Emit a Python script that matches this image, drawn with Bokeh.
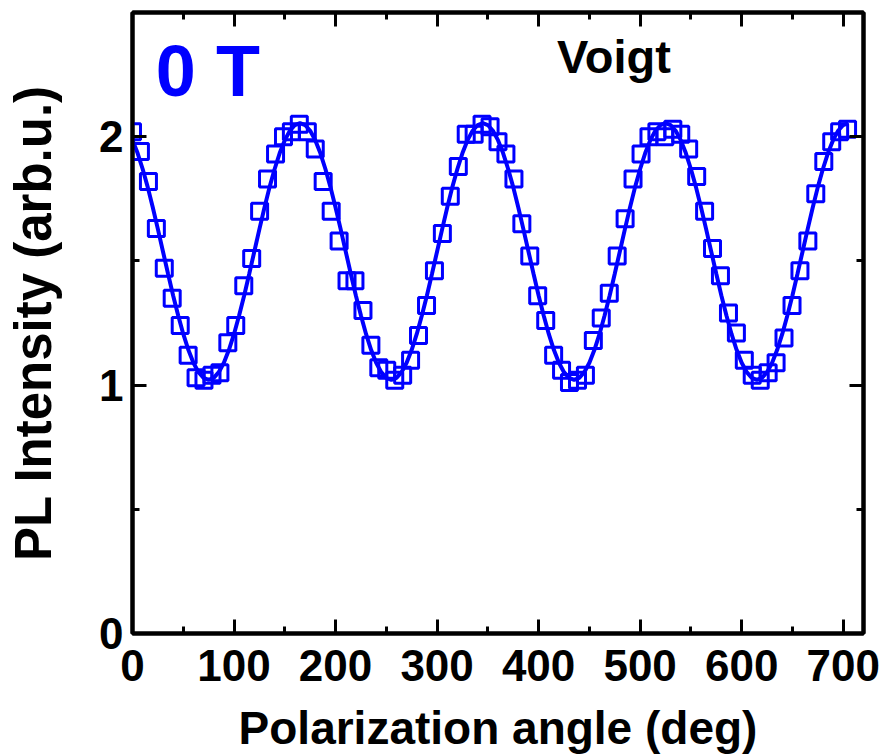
from bokeh.plotting import figure
from bokeh.models import LinearAxis, SingleIntervalTicker, Range1d, Label
from bokeh.embed import file_html
from bokeh.resources import INLINE

# ---- data ----
angle_deg = [0.0, 7.8, 15.7, 23.5, 31.3, 39.1, 47.0, 54.8, 62.6, 70.4,
             78.3, 86.1, 93.9, 101.7, 109.6, 117.4, 125.2, 133.0, 140.9, 148.7,
             156.5, 164.3, 172.2, 180.0, 187.8, 195.7, 203.5, 211.3, 219.1, 227.0,
             234.8, 242.6, 250.4, 258.3, 266.1, 273.9, 281.7, 289.6, 297.4, 305.2,
             313.0, 320.9, 328.7, 336.5, 344.3, 352.2, 360.0, 367.8, 375.7, 383.5,
             391.3, 399.1, 407.0, 414.8, 422.6, 430.4, 438.3, 446.1, 453.9, 461.7,
             469.6, 477.4, 485.2, 493.0, 500.9, 508.7, 516.5, 524.3, 532.2, 540.0,
             547.8, 555.7, 563.5, 571.3, 579.1, 587.0, 594.8, 602.6, 610.4, 618.3,
             626.1, 633.9, 641.7, 649.6, 657.4, 665.2, 673.0, 680.9, 688.7, 696.5,
             704.3]
pl_intensity = [2.02, 1.94, 1.82, 1.63, 1.47, 1.35, 1.24, 1.12, 1.03, 1.02,
                1.04, 1.05, 1.17, 1.24, 1.40, 1.51, 1.70, 1.83, 1.93, 2.00,
                2.02, 2.05, 2.02, 1.95, 1.82, 1.70, 1.58, 1.42, 1.42, 1.30,
                1.16, 1.07, 1.06, 1.02, 1.04, 1.10, 1.20, 1.32, 1.46, 1.61,
                1.76, 1.88, 2.01, 2.01, 2.05, 2.04, 1.98, 1.93, 1.83, 1.65,
                1.52, 1.36, 1.26, 1.12, 1.06, 1.01, 1.02, 1.04, 1.18, 1.27,
                1.37, 1.52, 1.67, 1.83, 1.93, 2.00, 2.02, 2.00, 2.03, 2.01,
                1.95, 1.84, 1.70, 1.55, 1.44, 1.29, 1.21, 1.10, 1.04, 1.02,
                1.05, 1.09, 1.19, 1.32, 1.46, 1.58, 1.77, 1.90, 1.98, 2.02,
                2.03]

fit_angle = list(range(0, 710, 5))
fit_intensity = [
    1.986, 1.934, 1.870, 1.797, 1.715, 1.628, 1.538, 1.448, 1.361, 1.280, 1.206, 1.142,
    1.090, 1.052, 1.029, 1.021, 1.029, 1.052, 1.090, 1.142, 1.206, 1.280, 1.361, 1.448,
    1.538, 1.628, 1.715, 1.797, 1.870, 1.934, 1.986, 2.024, 2.047, 2.055, 2.047, 2.024,
    1.986, 1.934, 1.870, 1.797, 1.715, 1.628, 1.538, 1.448, 1.361, 1.280, 1.206, 1.142,
    1.090, 1.052, 1.029, 1.021, 1.029, 1.052, 1.090, 1.142, 1.206, 1.280, 1.361, 1.448,
    1.538, 1.628, 1.715, 1.797, 1.870, 1.934, 1.986, 2.024, 2.047, 2.055, 2.047, 2.024,
    1.986, 1.934, 1.870, 1.797, 1.715, 1.628, 1.538, 1.448, 1.361, 1.280, 1.206, 1.142,
    1.090, 1.052, 1.029, 1.021, 1.029, 1.052, 1.090, 1.142, 1.206, 1.280, 1.361, 1.448,
    1.538, 1.628, 1.715, 1.797, 1.870, 1.934, 1.986, 2.024, 2.047, 2.055, 2.047, 2.024,
    1.986, 1.934, 1.870, 1.797, 1.715, 1.628, 1.538, 1.448, 1.361, 1.280, 1.206, 1.142,
    1.090, 1.052, 1.029, 1.021, 1.029, 1.052, 1.090, 1.142, 1.206, 1.280, 1.361, 1.448,
    1.538, 1.628, 1.715, 1.797, 1.870, 1.934, 1.986, 2.024, 2.047, 2.055]

x_label = "Polarization angle (deg)"
y_label = "PL Intensity (arb.u.)"
field_text = "0 T"
geometry_text = "Voigt"

FONT = "Liberation Sans"
BLUE = "#0000FF"

p = figure(width=884, height=756, x_range=Range1d(0, 720), y_range=Range1d(0, 2.5),
           output_backend="svg", toolbar_location=None,
           min_border_left=132, min_border_right=21, min_border_top=12, min_border_bottom=120)
p.xgrid.visible = False
p.ygrid.visible = False
p.background_fill_color = "white"
p.border_fill_color = "white"
p.outline_line_color = "black"
p.outline_line_width = 4


def style(ax, ticker, labels=True):
    ax.ticker = ticker
    ax.axis_line_color = "black"
    ax.axis_line_width = 4
    ax.major_tick_in = 14
    ax.major_tick_out = 0
    ax.minor_tick_in = 7
    ax.minor_tick_out = 0
    ax.major_tick_line_width = 3
    ax.minor_tick_line_width = 3
    ax.major_tick_line_color = "black"
    ax.minor_tick_line_color = "black"
    if labels:
        ax.major_label_text_font = FONT
        ax.major_label_text_font_style = "bold"
        ax.major_label_text_font_size = "44px"
        ax.major_label_text_color = "black"
        ax.axis_label_text_font = FONT
        ax.axis_label_text_font_style = "bold"
        ax.axis_label_text_color = "black"
    else:
        ax.major_label_text_font_size = "1px"
        ax.major_label_text_color = None
        ax.major_label_standoff = 0


style(p.xaxis[0], SingleIntervalTicker(interval=100, num_minor_ticks=2))
p.xaxis[0].major_label_standoff = 16
p.xaxis[0].axis_label = x_label
p.xaxis[0].axis_label_text_font_size = "46px"
p.xaxis[0].axis_label_standoff = 18

style(p.yaxis[0], SingleIntervalTicker(interval=1, num_minor_ticks=2))
p.yaxis[0].major_label_standoff = 9
p.yaxis[0].axis_label = y_label
p.yaxis[0].axis_label_text_font_size = "51px"
p.yaxis[0].axis_label_standoff = 34

top_ax = LinearAxis()
style(top_ax, SingleIntervalTicker(interval=100, num_minor_ticks=2), labels=False)
p.add_layout(top_ax, "above")
right_ax = LinearAxis()
style(right_ax, SingleIntervalTicker(interval=1, num_minor_ticks=2), labels=False)
p.add_layout(right_ax, "right")

p.scatter(angle_deg, pl_intensity, marker="square", size=16, line_width=3,
          line_color=BLUE, fill_color=None)
p.line(fit_angle, fit_intensity, line_color=BLUE, line_width=4)

p.add_layout(Label(x=23, y=2.265, text=field_text, text_font=FONT, text_font_style="bold",
                   text_font_size="72px", text_color=BLUE, text_align="left",
                   text_baseline="alphabetic"))
p.add_layout(Label(x=418, y=2.321, text=geometry_text, text_font=FONT, text_font_style="bold",
                   text_font_size="47px", text_color="black", text_align="left",
                   text_baseline="alphabetic"))

open("out.html", "w").write(file_html(p, INLINE))
